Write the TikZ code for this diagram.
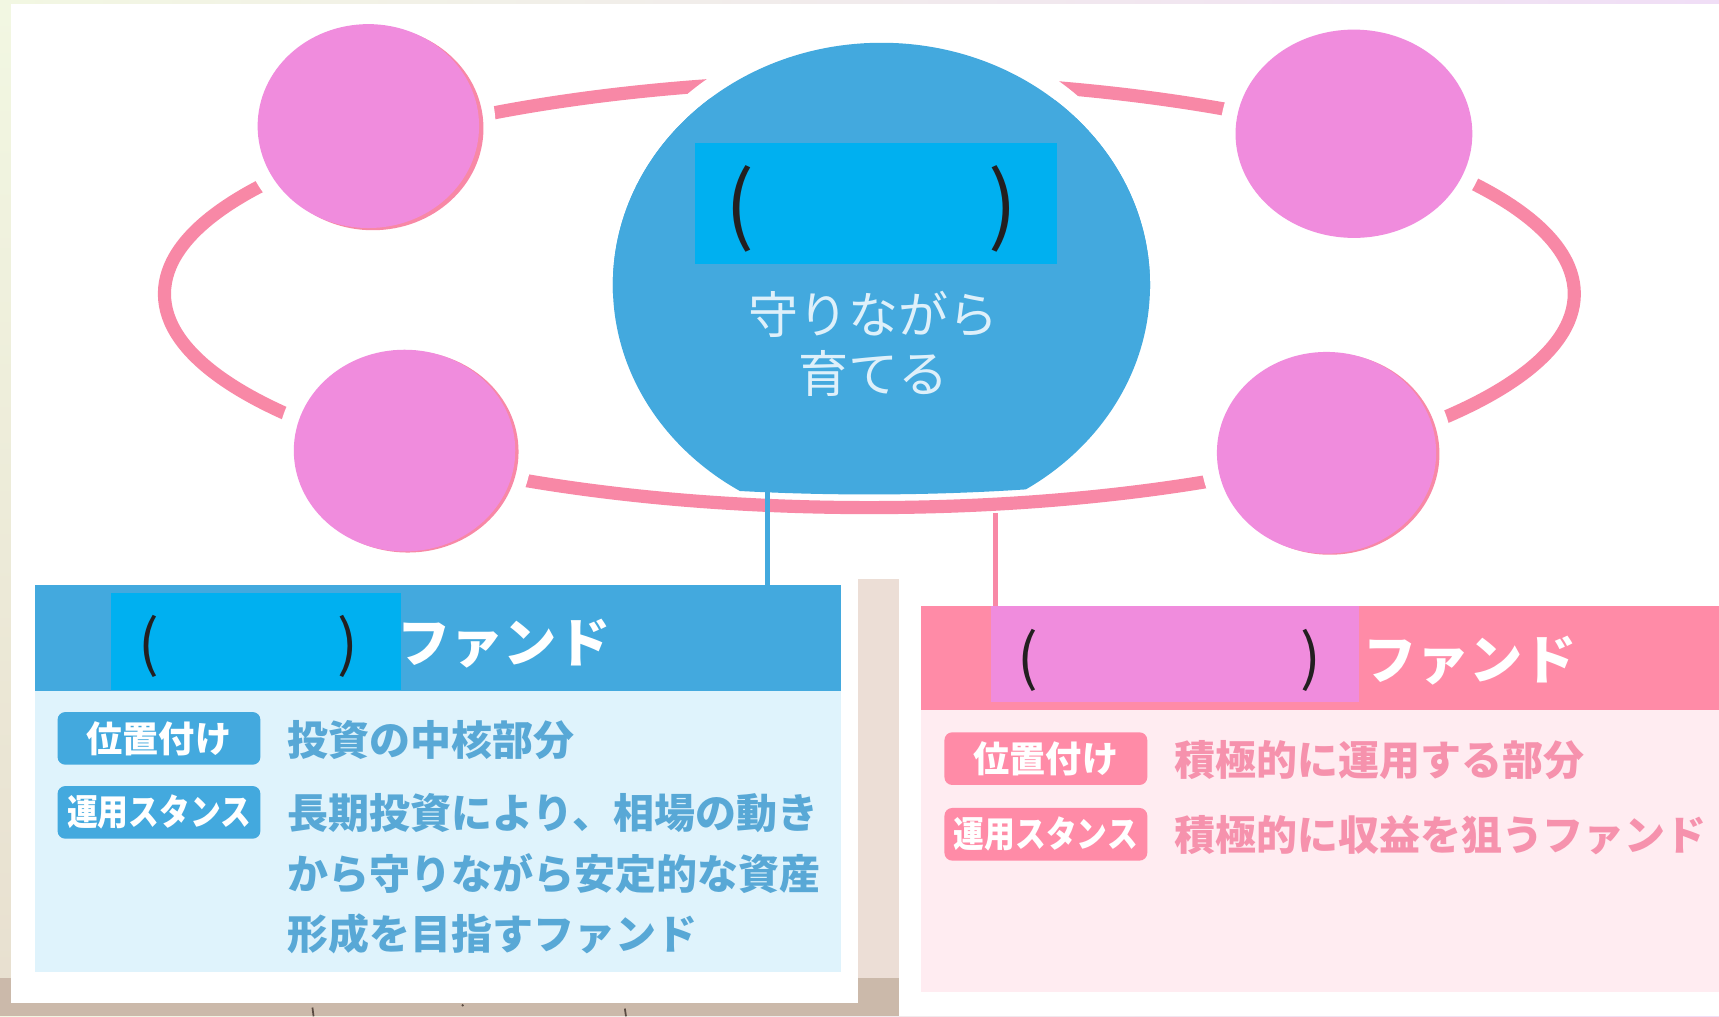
\documentclass[tikz,border=0pt]{standalone}
\usepackage{fontspec}
\newfontfamily\jp{Noto Sans CJK JP}
\newfontfamily\jpc[FakeStretch=0.85]{Noto Sans CJK JP}
\definecolor{ringpink}{RGB}{248,136,166}
\definecolor{orchidc}{RGB}{240,140,221}
\definecolor{bigblue}{RGB}{67,169,222}
\definecolor{cyanbox}{RGB}{0,176,240}
\definecolor{lightblue}{RGB}{223,243,252}
\definecolor{bluetext}{RGB}{88,168,214}
\definecolor{hdrpink}{RGB}{255,139,167}
\definecolor{lightpink}{RGB}{255,236,241}
\definecolor{pinktext}{RGB}{246,146,173}
\definecolor{parenblack}{RGB}{35,31,32}
\definecolor{centertext}{RGB}{222,240,250}
\definecolor{bgL}{RGB}{242,247,226}
\definecolor{bgR}{RGB}{240,222,246}
\definecolor{bgLB}{RGB}{232,224,208}
\definecolor{beigecol}{RGB}{236,222,214}
\definecolor{brownbg}{RGB}{203,185,170}
\definecolor{markc}{RGB}{90,75,66}
\begin{document}
\begin{tikzpicture}[x=0.5pt,y=-0.5pt,
  ringline/.style={draw=ringpink, line width=6pt},
  boxnode/.style={rectangle, inner sep=0pt, outer sep=0pt, anchor=north west},
  bodytxt/.style={inner sep=0pt, anchor=west, font=\jp\bfseries\fontsize{18.7}{22}\selectfont},
  hdrtxt/.style={inner sep=0pt, anchor=west, text=white, font=\jp\bfseries\fontsize{24.3}{28}\selectfont},
  tagbox/.style={rectangle, rounded corners=3.5pt, inner sep=0pt, minimum width=92.5pt, minimum height=24pt, text=white},
  tagA/.style={tagbox, font=\jp\bfseries\fontsize{16.5}{18}\selectfont},
  tagB/.style={tagbox, font=\jpc\bfseries\fontsize{16.5}{18}\selectfont},
  parenS/.style={inner sep=0pt, text=parenblack, font=\jp\fontsize{28}{30}\selectfont},
  parenL/.style={inner sep=0pt, text=parenblack, font=\jp\fontsize{39}{40}\selectfont},
  centxt/.style={inner sep=0pt, text=centertext, font=\jp\fontsize{22.8}{26}\selectfont},
  conline/.style={line width=2.5pt}
]
\useasboundingbox (0,0) rectangle (1568,927);
% background
\shade[left color=bgL, right color=bgR] (0,0) rectangle (1568,927);
\shade[top color=bgL, bottom color=bgLB] (0,4) rectangle (10,892);
\fill[beigecol] (783,528) rectangle (820,892);
\fill[brownbg] (0,892) rectangle (820,927);
\fill[white] (10,4) rectangle (1568,528);
\fill[white] (820,528) rectangle (1568,927);
\fill[white] (10,528) rectangle (783,915);
\draw[markc, line width=0.8pt] (285,919) -- (286,927);
\draw[markc, line width=0.8pt] (570,920) -- (571,927);
\fill[markc] (422,917) circle [radius=1.2];

% left box
\node[boxnode, fill=bigblue, minimum width=367.5pt, minimum height=48pt] (lhead) at (32,534) {};
\node[boxnode, fill=lightblue, minimum width=367.5pt, minimum height=128.5pt] (lbody) at (32,630) {};
\fill[cyanbox] (101,541) rectangle (366,629);
\node[parenS] (lpo) at (136,590) {(};
\node[parenS] (lpc) at (317,590) {)};
\node[hdrtxt] (lfund) at (362,587) {ファンド};
\node[tagA, fill=bigblue] (ltag1) at (145,673.5) {位置付け};
\node[bodytxt, text=bluetext] (ltx1) at (262,675) {投資の中核部分};
\node[tagB, fill=bigblue] (ltag2) at (145,741) {運用スタンス};
\node[bodytxt, text=bluetext] (ltx2) at (262,742) {長期投資により、相場の動き};
\node[bodytxt, text=bluetext] (ltx3) at (262,797) {から守りながら安定的な資産};
\node[bodytxt, text=bluetext] (ltx4) at (262,852) {形成を目指すファンド};

% right box
\node[boxnode, fill=hdrpink, minimum width=364pt, minimum height=47.5pt] (rhead) at (840,553) {};
\node[boxnode, fill=lightpink, minimum width=364pt, minimum height=128.5pt] (rbody) at (840,648) {};
\fill[orchidc] (904,553) rectangle (1240,640);
\node[parenS] (rpo) at (938,602) {(};
\node[parenS] (rpc) at (1196,602) {)};
\node[hdrtxt] (rfund) at (1243,603) {ファンド};
\node[tagA, fill=hdrpink] (rtag1) at (954,692) {位置付け};
\node[bodytxt, text=pinktext] (rtx1) at (1071,693) {積極的に運用する部分};
\node[tagB, fill=hdrpink] (rtag2) at (954,761) {運用スタンス};
\node[bodytxt, text=pinktext] (rtx2) at (1071,762) {積極的に収益を狙うファンド};

% ring
\draw[ringline] (793,268) ellipse [x radius=643, y radius=195];

% big blue circle
\begin{scope}
  \clip (0,0) rectangle (1568,268);
  \fill[white] (804,260) ellipse [x radius=261, y radius=237];
  \fill[bigblue] (804,260) ellipse [x radius=245, y radius=221];
\end{scope}
\begin{scope}
  \clip (793,268) ellipse [x radius=637, y radius=183];
  \fill[bigblue] (804,260) ellipse [x radius=245, y radius=221];
\end{scope}
\fill[cyanbox] (634,130) rectangle (964,241);
\node[parenL] (cpo) at (675,191) {(};
\node[parenL] (cpc) at (915,191) {)};
\node[centxt] (ct1) at (797,287) {守りながら};
\node[centxt] (ct2) at (797,341) {育てる};

% pink circles
\fill[white] (336,115) ellipse [x radius=116, y radius=108];
\fill[ringpink] (340,117) ellipse [x radius=101, y radius=93];
\fill[orchidc] (336,115) ellipse [x radius=101, y radius=93];

\fill[white] (1235,122) ellipse [x radius=122, y radius=109];
\fill[orchidc] (1235,122) ellipse [x radius=108, y radius=95];

\fill[white] (369,411) ellipse [x radius=116, y radius=107];
\fill[ringpink] (372,412) ellipse [x radius=101, y radius=92];
\fill[orchidc] (369,411) ellipse [x radius=101, y radius=92];

\fill[white] (1210,413) ellipse [x radius=115, y radius=107];
\fill[ringpink] (1213,414) ellipse [x radius=100, y radius=92];
\fill[orchidc] (1210,413) ellipse [x radius=100, y radius=92];

% connectors
\coordinate (bbot) at (700,449);
\coordinate (rbot) at (908,468);
\draw[conline, draw=bigblue] (bbot) -- (bbot |- lhead.north);
\draw[conline, draw=ringpink] (rbot) -- (rbot |- rhead.north);
\end{tikzpicture}
\end{document}
